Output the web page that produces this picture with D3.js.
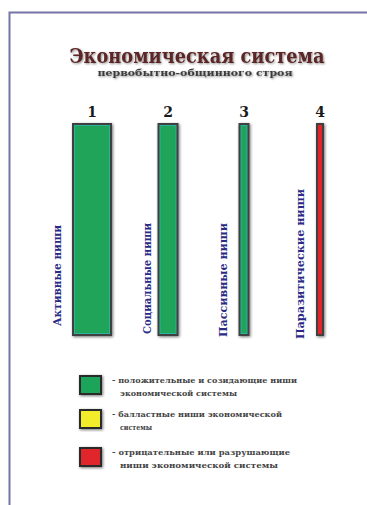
<!DOCTYPE html>
<html><head><meta charset="utf-8">
<script src="https://cdn.jsdelivr.net/npm/d3@7"></script>
<style>html,body{margin:0;padding:0;background:#fff;}svg{display:block;}</style>
</head><body>
<script>
const categories = ["1","2","3","4"];
const nicheLabels = ["Активные ниши","Социальные ниши","Пассивные ниши","Паразитические ниши"];
const nicheWidths = [36, 17, 7, 4];
const nicheHeights = [100, 100, 100, 100];
const nicheTypes = ["pos","pos","pos","neg"];
const legendKeys = ["pos","bal","neg"];
const legendLines = [
  ["- положительные и созидающие ниши","экономической системы"],
  ["- балластные ниши экономической","системы"],
  ["- отрицательные или разрушающие","ниши экономической системы"]
];
const title = "Экономическая система";
const subtitle = "первобытно-общинного строя";

const W = 367, H = 505;
const svg = d3.select("body").append("svg").attr("width", W).attr("height", H);
const defs = svg.append("defs");
const f = defs.append("filter").attr("id","sh").attr("x","-50%").attr("y","-20%").attr("width","200%").attr("height","140%");
f.append("feGaussianBlur").attr("in","SourceAlpha").attr("stdDeviation",1.6).attr("result","b");
f.append("feOffset").attr("in","b").attr("dx",1).attr("dy",1).attr("result","o");
f.append("feComponentTransfer").attr("in","o").attr("result","o2").append("feFuncA").attr("type","linear").attr("slope",0.55);
const m = f.append("feMerge"); m.append("feMergeNode").attr("in","o2"); m.append("feMergeNode").attr("in","SourceGraphic");
const tf = defs.append("filter").attr("id","tsh").attr("x","-10%").attr("y","-30%").attr("width","120%").attr("height","160%");
tf.append("feGaussianBlur").attr("in","SourceAlpha").attr("stdDeviation",1.2).attr("result","b");
tf.append("feOffset").attr("in","b").attr("dx",1).attr("dy",1).attr("result","o");
tf.append("feComponentTransfer").attr("in","o").attr("result","o2").append("feFuncA").attr("type","linear").attr("slope",0.45);
const m2 = tf.append("feMerge"); m2.append("feMergeNode").attr("in","o2"); m2.append("feMergeNode").attr("in","SourceGraphic");

const colors = {pos:"#1fa45a", bal:"#f2ec2a", neg:"#e0262c"};
const edge = {pos:"#2ab39c", bal:"#d8d020", neg:"#e0262c"};

// frame
svg.append("path").attr("d",`M9.5,${H} V12.5 H${W}`).attr("fill","none").attr("stroke","#7474a8").attr("stroke-width",2);

// title
svg.append("text").attr("x",197).attr("y",63).attr("text-anchor","middle")
  .attr("font-family","DejaVu Serif, serif").attr("font-weight","bold").attr("font-size",20)
  .attr("fill","#5a2626").attr("filter","url(#tsh)").attr("textLength",255).attr("lengthAdjust","spacingAndGlyphs").text(title);
svg.append("text").attr("x",195).attr("y",76).attr("text-anchor","middle")
  .attr("font-family","DejaVu Serif, serif").attr("font-weight","bold").attr("font-size",9.5)
  .attr("fill","#3a3a3a").attr("filter","url(#tsh)").attr("textLength",195).attr("lengthAdjust","spacingAndGlyphs").text(subtitle);

const x = d3.scalePoint().domain(categories).range([92, 320]);
const w = d3.scaleLinear().domain([0, 36]).range([0, 36]);
const y = d3.scaleLinear().domain([0, 100]).range([334, 125]);

const g = svg.append("g");
categories.forEach((c,i)=>{
  const cx = x(c), iw = w(nicheWidths[i]);
  g.append("rect").attr("x",cx-iw/2-2).attr("y",y(nicheHeights[i])-2).attr("width",iw+4).attr("height",y(0)-y(nicheHeights[i])+4)
    .attr("fill","#404040").attr("filter","url(#sh)");
  g.append("rect").attr("x",cx-iw/2).attr("y",y(nicheHeights[i])).attr("width",iw).attr("height",y(0)-y(nicheHeights[i]))
    .attr("fill",edge[nicheTypes[i]]);
  if (iw > 4) g.append("rect").attr("x",cx-iw/2+1).attr("y",y(nicheHeights[i])+1).attr("width",iw-2).attr("height",y(0)-y(nicheHeights[i])-2)
    .attr("fill",colors[nicheTypes[i]]);
  g.append("text").attr("x",cx).attr("y",117).attr("text-anchor","middle")
    .attr("font-family","DejaVu Serif, serif").attr("font-weight","bold").attr("font-size",14).attr("fill","#1a1a1a").text(c);
});

const labX = [61, 151, 227, 304];
const labY = [326, 334, 337, 339];
const labLen = [101, 111, 114, 150];
nicheLabels.forEach((t,i)=>{
  g.append("text").attr("transform",`translate(${labX[i]},${labY[i]}) rotate(-90)`)
    .attr("font-family","DejaVu Serif, serif").attr("font-weight","bold").attr("font-size",10.5)
    .attr("fill","#2a2a86").attr("textLength",labLen[i]).attr("lengthAdjust","spacingAndGlyphs").text(t);
});

// legend
const ly = [376, 410, 448];
const lineLen = [[185,117],[170,32],[178,158]];
const lg = svg.append("g");
legendKeys.forEach((k,i)=>{
  lg.append("rect").attr("x",80).attr("y",ly[i]).attr("width",21).attr("height",18).attr("fill",colors[k])
    .attr("stroke","#2a2a2a").attr("stroke-width",2).attr("filter","url(#sh)");
  legendLines[i].forEach((t,j)=>{
    lg.append("text").attr("x", j===0?112:120).attr("y",ly[i]+7+j*13)
      .attr("font-family","DejaVu Serif, serif").attr("font-weight","bold").attr("font-size",8)
      .attr("fill","#454545").attr("textLength",lineLen[i][j]).attr("lengthAdjust","spacingAndGlyphs").text(t);
  });
});
</script>
</body></html>
